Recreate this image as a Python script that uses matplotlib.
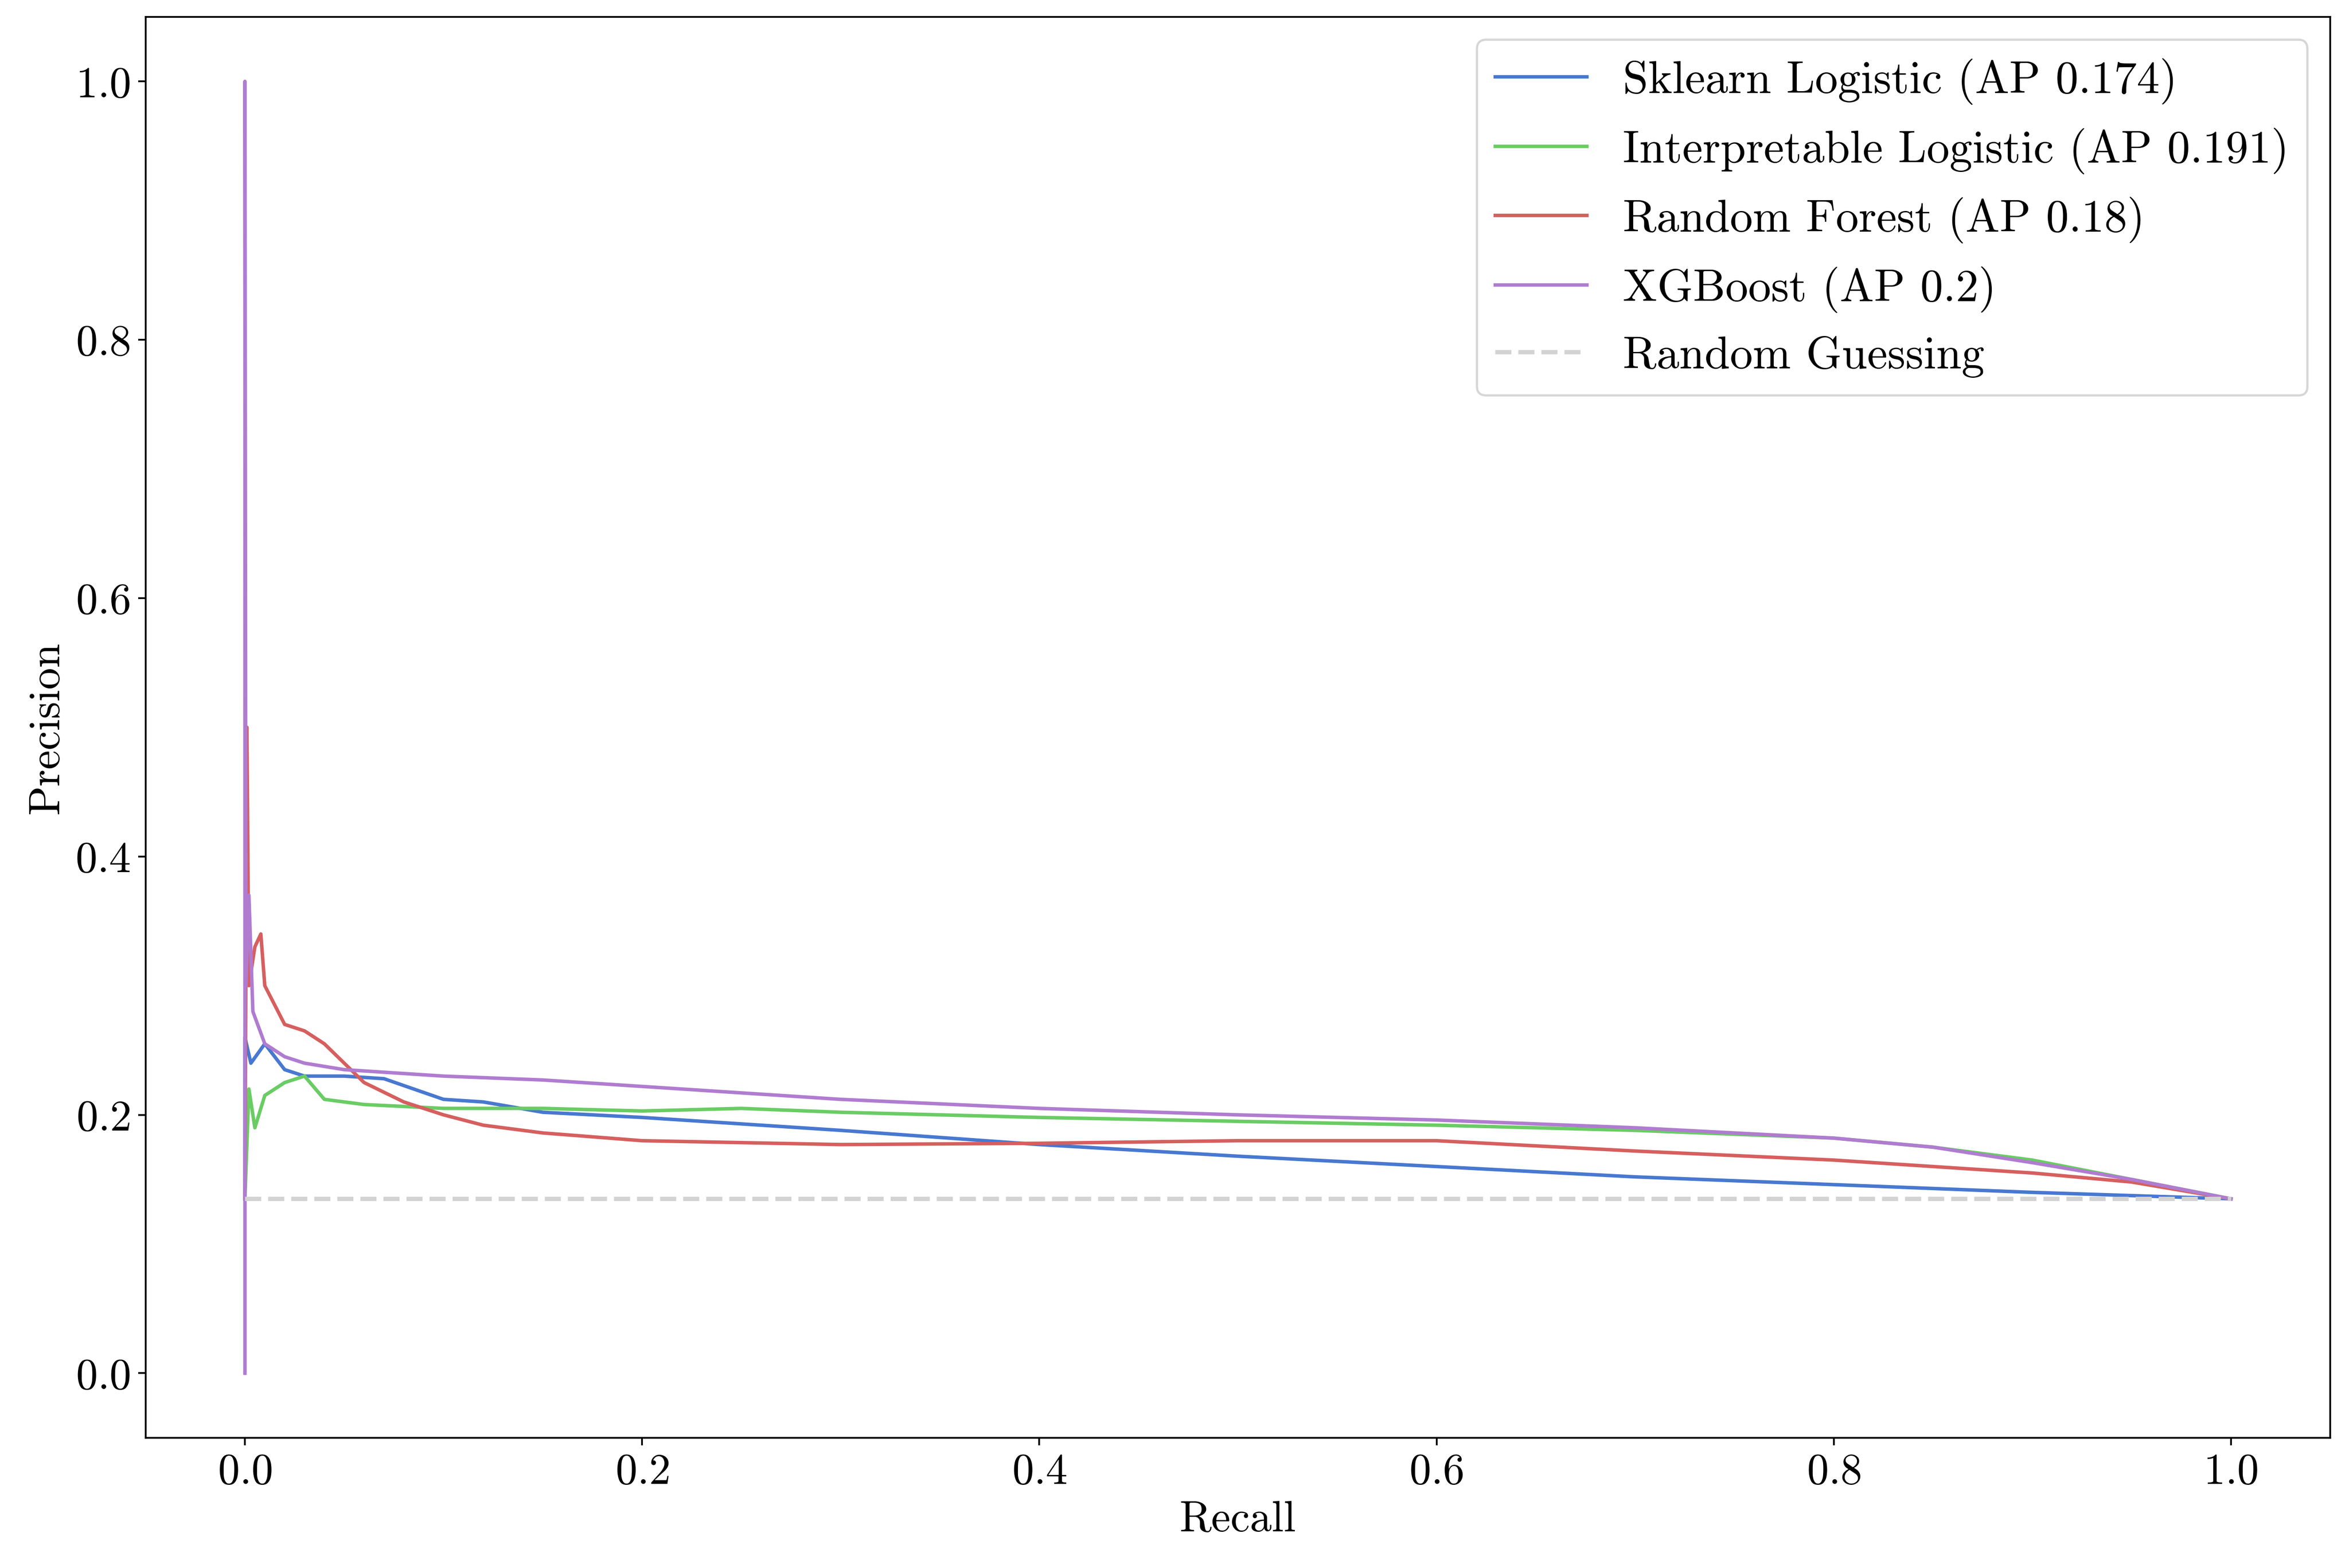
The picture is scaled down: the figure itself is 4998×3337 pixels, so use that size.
import matplotlib
matplotlib.use("Agg")
import matplotlib.pyplot as plt

plt.rcParams['font.family'] = 'serif'
plt.rcParams['font.serif'] = ['cmr10']
plt.rcParams['mathtext.fontset'] = 'cm'
plt.rcParams['axes.formatter.use_mathtext'] = True

# curves (recall, precision)
sk_r = [0, 0, 0.003, 0.01, 0.02, 0.03, 0.05, 0.07, 0.1, 0.12, 0.15, 0.2, 0.3, 0.4, 0.5, 0.6, 0.7, 0.8, 0.9, 1]
sk_p = [0.135, 0.26, 0.24, 0.255, 0.235, 0.23, 0.23, 0.228, 0.212, 0.21, 0.202, 0.198, 0.188, 0.177, 0.168, 0.16, 0.152, 0.146, 0.14, 0.135]
il_r = [0, 0.002, 0.005, 0.01, 0.02, 0.03, 0.04, 0.06, 0.1, 0.15, 0.2, 0.25, 0.3, 0.4, 0.5, 0.6, 0.7, 0.8, 0.85, 0.9, 0.95, 1]
il_p = [0.135, 0.22, 0.19, 0.215, 0.225, 0.23, 0.212, 0.208, 0.205, 0.205, 0.203, 0.205, 0.202, 0.198, 0.195, 0.192, 0.188, 0.182, 0.175, 0.165, 0.15, 0.135]
rf_r = [0, 0.001, 0.002, 0.005, 0.008, 0.01, 0.02, 0.03, 0.04, 0.05, 0.06, 0.08, 0.1, 0.12, 0.15, 0.2, 0.3, 0.4, 0.5, 0.6, 0.7, 0.8, 0.9, 0.95, 1]
rf_p = [0.135, 0.5, 0.3, 0.33, 0.34, 0.3, 0.27, 0.265, 0.255, 0.24, 0.225, 0.21, 0.2, 0.192, 0.186, 0.18, 0.177, 0.178, 0.18, 0.18, 0.172, 0.165, 0.155, 0.148, 0.135]
xg_r = [0, 0, 0.0005, 0.002, 0.004, 0.01, 0.02, 0.03, 0.05, 0.08, 0.1, 0.15, 0.2, 0.3, 0.4, 0.5, 0.6, 0.7, 0.8, 0.85, 0.9, 0.95, 1]
xg_p = [0, 1.0, 0.3, 0.37, 0.28, 0.255, 0.245, 0.24, 0.235, 0.232, 0.23, 0.227, 0.222, 0.212, 0.205, 0.2, 0.196, 0.19, 0.182, 0.175, 0.163, 0.15, 0.135]
baseline = 0.135

fig = plt.figure(figsize=(15, 10.018), dpi=333.2)
ax = fig.add_axes([0.062, 0.083, 0.930, 0.906])
ax.plot(sk_r, sk_p, color='#4878D0', lw=1.6, label='Sklearn Logistic (AP 0.174)')
ax.plot(il_r, il_p, color='#6ACC64', lw=1.6, label='Interpretable Logistic (AP 0.191)')
ax.plot(rf_r, rf_p, color='#D65F5F', lw=1.6, label='Random Forest (AP 0.18)')
ax.plot(xg_r, xg_p, color='#B07CD0', lw=1.6, label='XGBoost (AP 0.2)')
ax.plot([0, 1], [baseline, baseline], '--', color='lightgray', lw=2, label='Random Guessing')
ax.set_xlim(-0.05, 1.05)
ax.set_ylim(-0.05, 1.05)
ax.set_xlabel('Recall', fontsize=20)
ax.set_ylabel('Precision', fontsize=20)
ax.tick_params(labelsize=20)
ax.legend(loc='upper right', fontsize=21)
fig.savefig('out.png')
